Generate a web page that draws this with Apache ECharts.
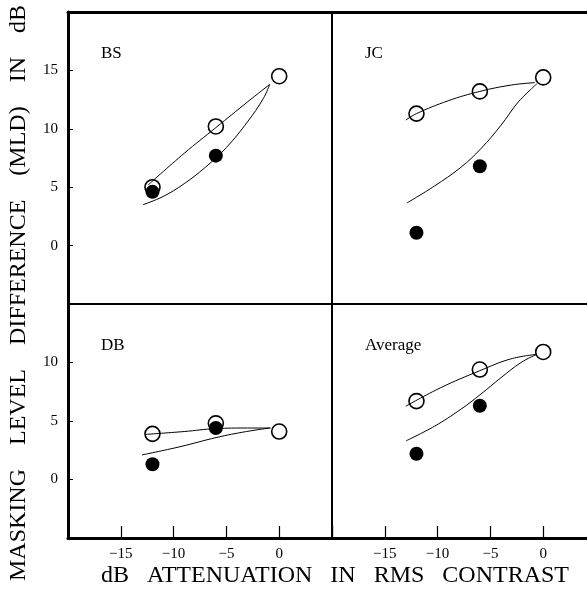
<!DOCTYPE html>
<html>
<head>
<meta charset="utf-8">
<script src="https://cdn.jsdelivr.net/npm/echarts@6/dist/echarts.min.js"></script>
<style>
  html, body { margin: 0; padding: 0; background: #fff; }
  #chart { width: 587px; height: 592px; }
</style>
</head>
<body>
<div id="chart"></div>
<script>
// attenuation levels (dB) where MLD was measured
const attenuation = [-12, -6, 0]
const xTickLabels = [-15, -10, -5, 0]
const yTickTop = [0, 5, 10, 15]
const yTickBottom = [0, 5, 10]

// open circles: 3 points, filled circles: 2 points (-12, -6)
const bsOpen = [5.0, 10.2, 14.5]
const bsFilled = [4.6, 7.7]
const jcOpen = [11.3, 13.2, 14.4]
const jcFilled = [1.1, 6.8]
const dbOpen = [3.9, 4.8, 4.1]
const dbFilled = [1.3, 4.4]
const avgOpen = [6.7, 9.4, 10.9]
const avgFilled = [2.2, 6.3]

// fitted curves, [attenuation, MLD]
const bsCurveOpen = [[-12.4, 5.2], [-9, 7.9], [-6, 10.1], [-3, 12.3], [-0.9, 13.8]]
const bsCurveFilled = [[-12.9, 3.5], [-11, 4.2], [-9, 5.3], [-7, 6.7], [-5, 8.4], [-3, 10.6], [-1.5, 12.6], [-0.9, 13.8]]
const jcCurveOpen = [[-13, 10.75], [-12, 11.3], [-9, 12.4], [-6, 13.2], [-3, 13.75], [-0.8, 13.95]]
const jcCurveFilled = [[-12.9, 3.65], [-10.3, 5.1], [-7.8, 6.7], [-5.9, 8.3], [-4, 10.3], [-2.45, 12.2], [-1.2, 13.35], [-0.6, 13.85]]
const dbCurveOpen = [[-12.7, 3.85], [-9, 4.1], [-6, 4.35], [-3, 4.4], [-0.8, 4.4]]
const dbCurveFilled = [[-13, 2.1], [-9.4, 2.8], [-5.9, 3.6], [-3.1, 4.1], [-0.9, 4.4]]
const avgCurveOpen = [[-13, 6.27], [-9.7, 7.85], [-6, 9.3], [-3.1, 10.3], [-0.6, 10.7]]
const avgCurveFilled = [[-13, 3.3], [-10.3, 4.55], [-7.8, 6.0], [-5.9, 7.3], [-4, 8.7], [-2.1, 10.0], [-0.6, 10.7]]

const serif = '"Liberation Serif", "DejaVu Serif", serif'

const panels = [
  { name: "BS", open: bsOpen, filled: bsFilled, cOpen: bsCurveOpen, cFilled: bsCurveFilled, left: 68, top: 12, h: 292, max: 20, ticks: yTickTop, bottomRow: false, leftCol: true },
  { name: "JC", open: jcOpen, filled: jcFilled, cOpen: jcCurveOpen, cFilled: jcCurveFilled, left: 332, top: 12, h: 292, max: 20, ticks: yTickTop, bottomRow: false, leftCol: false },
  { name: "DB", open: dbOpen, filled: dbFilled, cOpen: dbCurveOpen, cFilled: dbCurveFilled, left: 68, top: 304, h: 234, max: 15, ticks: yTickBottom, bottomRow: true, leftCol: true },
  { name: "Average", open: avgOpen, filled: avgFilled, cOpen: avgCurveOpen, cFilled: avgCurveFilled, left: 332, top: 304, h: 234, max: 15, ticks: yTickBottom, bottomRow: true, leftCol: false },
]

const grid = [], xAxis = [], yAxis = [], series = [], graphic = []

panels.forEach((p, i) => {
  grid.push({
    left: p.left, top: p.top, width: 264, height: p.h,
    outerBoundsMode: "none", containLabel: false,
    show: true, borderColor: "#000", borderWidth: 2, backgroundColor: "#fff",
  })
  xAxis.push({
    type: "value", gridIndex: i, min: -20, max: 5, interval: 5,
    position: p.bottomRow ? "bottom" : "top",
    axisLine: { show: true, onZero: false, lineStyle: { color: "#000", width: 3 } },
    axisTick: { show: p.bottomRow, inside: true, length: 12, lineStyle: { color: "#000", width: 1.2 } },
    axisLabel: {
      show: p.bottomRow, margin: 9, color: "#000", fontFamily: serif, fontSize: 15,
      formatter: v => xTickLabels.includes(v) ? (v < 0 ? "\u2212" + Math.abs(v) : String(v)) : "",
    },
    splitLine: { show: false },
  })
  yAxis.push({
    type: "value", gridIndex: i, min: -5, max: p.max, interval: 5,
    axisLine: { show: p.leftCol, onZero: false, lineStyle: { color: "#000", width: 3 } },
    axisTick: { show: p.leftCol, inside: true, length: 5, lineStyle: { color: "#000", width: 1 } },
    axisLabel: {
      show: p.leftCol, margin: 10, color: "#000", fontFamily: serif, fontSize: 15,
      formatter: v => p.ticks.includes(v) ? String(v) : "",
    },
    splitLine: { show: false },
  })
  series.push({
    type: "scatter", xAxisIndex: i, yAxisIndex: i, z: 2,
    symbol: "circle", symbolSize: 15,
    itemStyle: { color: "#fff", borderColor: "#000", borderWidth: 1.6, opacity: 1 },
    data: p.open.map((v, k) => [attenuation[k], v]),
  })
  ;[p.cOpen, p.cFilled].forEach(c => {
    series.push({
      type: "line", xAxisIndex: i, yAxisIndex: i, z: 3,
      smooth: 0.4, showSymbol: false, symbol: "none",
      lineStyle: { color: "#000", width: 1 },
      data: c,
    })
  })
  series.push({
    type: "scatter", xAxisIndex: i, yAxisIndex: i, z: 4,
    symbol: "circle", symbolSize: 14,
    itemStyle: { color: "#000", opacity: 1 },
    data: p.filled.map((v, k) => [attenuation[k], v]),
  })
  graphic.push({
    type: "text", left: p.left + 33, top: p.top + 33, z: 10,
    style: { text: p.name, font: "17px " + serif, fill: "#000" },
  })
})

graphic.push({
  type: "text", x: 19, y: 293, rotation: Math.PI / 2, z: 10,
  style: { text: "MASKING    LEVEL    DIFFERENCE    (MLD)    IN    dB", font: "24px " + serif, fill: "#000", textAlign: "center", textVerticalAlign: "middle" },
})
graphic.push({
  type: "text", x: 335, y: 576, z: 10,
  style: { text: "dB   ATTENUATION   IN   RMS   CONTRAST", font: "24px " + serif, fill: "#000", textAlign: "center", textVerticalAlign: "middle" },
})

const chart = echarts.init(document.getElementById("chart"), null, { renderer: "canvas" })
chart.setOption({
  animation: false,
  backgroundColor: "#fff",
  grid, xAxis, yAxis, series, graphic,
})
window.addEventListener("resize", () => chart.resize())
</script>
</body>
</html>
